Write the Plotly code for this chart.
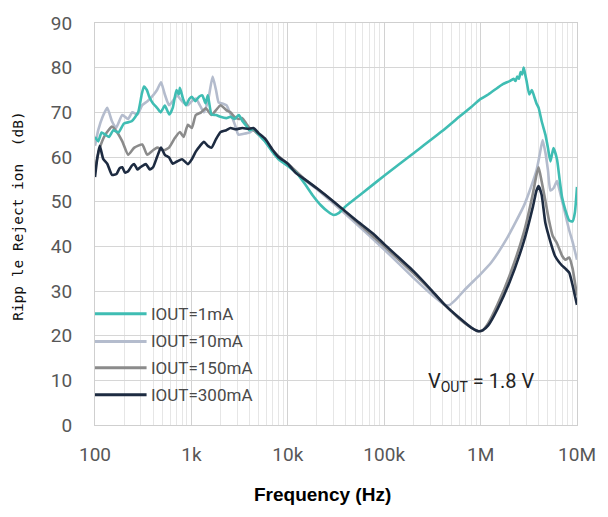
import plotly.graph_objects as go

# ---------------- data ----------------
freq_1mA = [100,108,117,128,140,155,175,200,240,280,305,322,345,365,400,440,480,530,590,640,700,740,760,820,880,950,1010,1100,1200,1300,1400,1480,1620,1800,2000,2300,2550,2800,3100,3400,3700,4000,4400,5000,5800,7000,8000,10000,12500,15000,18000,22000,26000,30000,34000,40000,60000,100000,200000,400000,600000,800000,1000000,1200000,1500000,1700000,2000000,2200000,2300000,2400000,2500000,2600000,2700000,2800000,2900000,3000000,3200000,3400000,3600000,3800000,4000000,4300000,4700000,5000000,5300000,5700000,6200000,6600000,7000000,7600000,8300000,9000000,9500000,10000000]
rr_1mA = [64.5,63.5,65.5,65,64.5,66,65.5,67.5,68,70,74,75.8,75,73.5,72,71,70,71.5,69.5,71,75,74,75.5,73,71.6,73,73.5,72.5,73.5,73.8,72,73.8,69.5,69.4,69,68.7,69,68.5,69.4,68,67,66,66.3,65,63.5,61,59.5,58,56.3,54,51.5,49.2,47.8,47,47.5,49,52,55.8,60.8,65.8,69,71.2,73,74,75.5,76.3,77,77.5,77,78,77.5,79,78.5,80,78.5,77,74,75,73.5,72,71,68,65,62,59,62,59.5,55,51,48,45.8,45.6,47.5,53.3]

freq_10mA = [100,108,120,134,150,165,192,220,244,275,309,350,400,440,484,530,586,640,708,800,920,1010,1110,1230,1350,1500,1660,1800,1920,2100,2310,2500,2670,2850,3070,3500,4000,4400,5000,5800,7000,8000,10000,15000,20000,50000,100000,200000,300000,420000,470000,550000,700000,850000,1000000,1300000,1900000,2800000,3300000,3800000,4100000,4400000,4700000,5000000,5300000,5700000,6200000,6600000,7000000,7600000,8300000,9000000,10000000]
rr_10mA = [62.5,66,69,71,68,66.5,69.4,68.5,70,69.5,71.6,72.5,73.8,75,76.7,74,71.6,72.5,73.8,72.5,71.6,72.5,73.1,71.5,70,73,78,75,72.2,72,71.6,70,68.7,67,65,65.2,65.5,66,65,63.5,61.2,60,58.3,54.8,52.8,45.3,39.3,33,29.5,27,26.8,28,30.5,32.3,33.8,36.5,42,49,53,57,60.5,63.8,61,57,52.5,53,54.6,52.5,50.2,47,43.6,41,37]

freq_150mA = [100,112,128,150,170,192,221,256,309,348,400,441,520,586,676,760,830,920,1010,1110,1260,1410,1620,1800,2010,2300,2540,2800,3100,3370,3700,4000,4400,5000,5800,7000,8000,10000,15000,20000,50000,100000,200000,300000,420000,600000,800000,950000,1050000,1200000,1500000,2000000,2800000,3500000,3800000,4000000,4300000,4700000,5100000,5600000,6200000,7000000,7600000,8300000,9000000,9500000,10000000]
rr_150mA = [57.5,62,65,66.8,65.5,63.5,60.5,62.1,62.8,60.5,61.5,62.1,61.5,62.1,64.3,65.6,64.5,67.2,66.5,69.4,70,70.9,69.4,70.5,71.6,70.5,70,69,68.5,68.7,67.5,66.5,66,65,63.8,61.5,60.2,58.5,55,53,45.8,40,34,30.3,27,23.8,21.8,21,21.2,22.8,27,33.5,43,52,56,57.7,54.5,50.2,46,42.3,40.7,37.9,37,37.5,35,32,29]

freq_300mA = [100,106,112,122,134,150,167,180,192,205,221,240,256,275,295,320,339,370,400,440,484,530,586,640,708,800,920,1010,1110,1230,1350,1480,1620,1800,2010,2300,2540,2900,3370,3900,4390,5000,5860,7000,8000,10000,12000,15000,20000,30000,50000,80000,100000,200000,300000,420000,600000,800000,950000,1050000,1200000,1500000,2000000,2800000,3500000,3800000,4000000,4300000,4700000,5300000,5900000,6500000,7000000,7600000,8300000,9000000,9500000,10000000]
rr_300mA = [55.5,60,62.5,59.5,58.5,56,56.2,57.5,57.7,56.5,56.8,58,58.4,57.2,57.7,58.2,58.4,57.2,57.7,60,62.1,60.5,59.9,58.5,59,59.5,58.4,59.5,61.2,62.5,63.4,62.5,62.1,64,65.6,66,66.5,66.2,66.5,66.3,66.5,65.3,64,61.5,60,58.5,56.5,55,53,50,46,42.5,40.5,34.5,30.5,27,24,21.8,21,21.2,22.3,26,32,41,49,52.5,53.5,51.5,45.2,41,37.9,36.5,35.7,35,34.1,31.3,29,26.9]

series_names = ["IOUT=1mA", "IOUT=10mA", "IOUT=150mA", "IOUT=300mA"]
series_freq = [freq_1mA, freq_10mA, freq_150mA, freq_300mA]
series_vals = [rr_1mA, rr_10mA, rr_150mA, rr_300mA]
series_colors = ["#3fbdb3", "#b4bccd", "#8b8b8b", "#1d2b41"]
legend_y = [24.9, 18.7, 12.8, 6.8]   # legend rows (dB positions inside plot)

x_tickvals = [1e2, 1e3, 1e4, 1e5, 1e6, 1e7]
x_ticktext = ["100", "1k", "10k", "100k", "1M", "10M"]
minor_vals = [m * 10 ** d for d in range(2, 7) for m in range(2, 10)]

# ---------------- figure ----------------
fig = go.Figure()
order = [1, 2, 0, 3]
for i in order:
    fig.add_trace(go.Scatter(
        x=series_freq[i], y=series_vals[i], mode="lines", name=series_names[i],
        line=dict(color=series_colors[i], width=2.6, shape="spline", smoothing=0.5),
        showlegend=False, hoverinfo="x+y+name"))

tick_font = dict(family="Roboto, sans-serif", size=19, color="#575757")

for i in range(4):
    fig.add_shape(type="line", xref="paper", yref="y",
                  x0=0.0, x1=0.107, y0=legend_y[i], y1=legend_y[i],
                  line=dict(color=series_colors[i], width=3))
    fig.add_annotation(xref="paper", yref="y", x=0.113, y=legend_y[i],
                       text=series_names[i], showarrow=False, xanchor="left", yanchor="middle",
                       font=dict(family="Roboto, sans-serif", size=17, color="#4a4a4a"))

fig.add_annotation(xref="paper", yref="y", x=0.80, y=9.6,
                   text="V<sub>OUT</sub> = 1.8 V", showarrow=False, xanchor="center", yanchor="middle",
                   font=dict(family="Roboto, sans-serif", size=20, color="#222222"))

fig.add_annotation(xref="paper", yref="paper", x=0.473, y=-0.172,
                   text="<b>Frequency (Hz)</b>", showarrow=False, xanchor="center", yanchor="middle",
                   font=dict(family="Liberation Sans, Arial, sans-serif", size=19, color="#000000"))

fig.add_annotation(xref="paper", yref="paper", x=-0.16, y=0.52,
                   text="Ripp le Reject ion  (dB)", showarrow=False, textangle=-90,
                   xanchor="center", yanchor="middle",
                   font=dict(family="DejaVu Sans Mono, monospace", size=14.5, color="#111111"))

fig.update_xaxes(type="log", range=[2, 7], tickmode="array", tickvals=x_tickvals, ticktext=x_ticktext,
                 tickfont=tick_font, showgrid=True, gridcolor="#d2d2d2", gridwidth=1,
                 minor=dict(tickmode="array", tickvals=minor_vals, showgrid=True,
                            gridcolor="#e6e6e6", gridwidth=1, ticks=""),
                 showline=True, linecolor="#cfcfcf", linewidth=1, mirror=True,
                 ticks="", ticklabelstandoff=12, zeroline=False)
fig.update_yaxes(range=[0, 90], tickmode="linear", tick0=0, dtick=10, tickfont=tick_font,
                 showgrid=True, gridcolor="#d6d6d6", gridwidth=1,
                 showline=True, linecolor="#cfcfcf", linewidth=1, mirror=True,
                 ticks="", ticklabelstandoff=18, zeroline=False)

fig.update_layout(width=608, height=517, margin=dict(l=95, r=28, t=15, b=92),
                  paper_bgcolor="#ffffff", plot_bgcolor="#ffffff", showlegend=False)

fig.write_html("out.html")
